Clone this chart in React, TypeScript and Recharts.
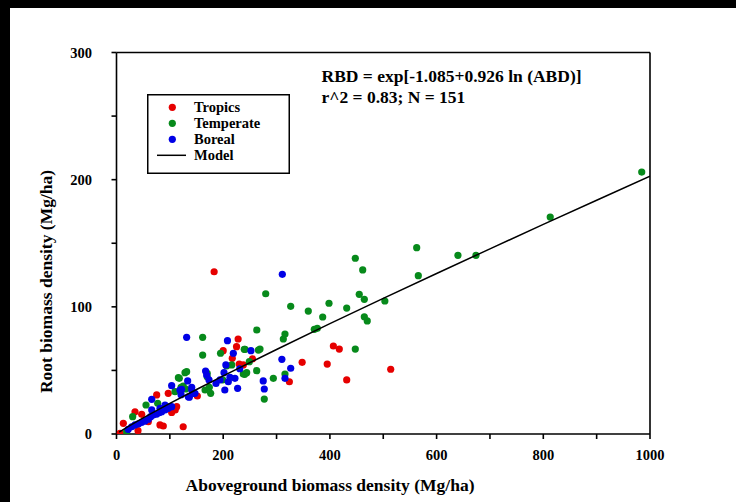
import React from 'react';
import {
  ScatterChart,
  Scatter,
  XAxis,
  YAxis,
  ReferenceLine,
  Legend,
  Label,
} from 'recharts';

// ---------- data (Mg/ha) ----------
const tropics: [number, number][] = [
  [6.6, 0.5], [12.8, 8.4], [34.7, 17.5], [40.3, 2.6], [47.2, 15.5], [59.6, 9.7],
  [75.3, 30.7], [81.5, 7.1], [87.7, 6.3], [97, 32], [103.4, 17], [110, 18.9],
  [112.8, 21.5], [125, 5.7], [151.5, 29.9], [183, 127.6], [200, 65.5], [217, 59.5],
  [225, 68.7], [228, 74.7], [230, 55], [237.7, 54.3], [255, 59], [324, 41.1],
  [348, 56.4], [395, 55], [406.5, 69.2], [417.6, 66.8], [431.5, 42.5], [514, 50.9],
];

const temperate: [number, number][] = [
  [19, 1.8], [30.3, 13.6], [55.3, 22.8], [77.2, 24.1], [109.7, 33.3], [116, 44.3],
  [117.7, 43.8], [121, 36.7], [125, 37.7], [128.4, 48.2], [131.5, 49], [129.7, 35.4],
  [161.5, 76], [161.5, 62.1], [166, 34.6], [170, 47.7], [170, 45], [174, 36.7],
  [176.5, 32], [195, 63.5], [199, 42.5], [206.5, 53.5], [216, 54.3], [237.7, 47.2],
  [239.5, 66.6], [241, 66.6], [244, 48.2], [240.3, 46.9], [249, 56.9], [262.8, 49.8],
  [263, 81.8], [266, 66], [269, 66.8], [277, 27.5], [279.7, 110.3], [294, 43.8],
  [312.7, 74.7], [315.8, 78.6], [315.8, 47.2], [326.5, 100.4], [359.5, 96.7],
  [370.8, 82.3], [376.4, 83.1], [386.5, 92], [398.3, 102.8], [431.5, 99],
  [447.6, 66.8], [447.6, 138.2], [455, 109.8], [461.5, 129], [464.5, 105.9],
  [464.5, 92.2], [470, 88.9], [503, 104.6], [562.7, 146.5], [565.7, 124.5],
  [640, 140.5], [673.8, 140.5], [813, 170.6], [984.5, 206],
];

const boreal: [number, number][] = [
  [22, 3.7], [28.5, 5.7], [34.7, 7.1], [41, 7.9], [47.2, 9.2], [53.4, 10.2],
  [59.6, 11.6], [64, 13.6], [66, 18.9], [69, 14.9], [75.3, 15.7], [80.2, 16.7],
  [81.5, 20.2], [84.7, 17.5], [91, 18.9], [91, 22.8], [97, 20.2], [100, 21.5],
  [103.4, 21.5], [66, 27.3], [103.4, 38], [119, 34.6], [122, 35.1], [121, 30.9],
  [131.5, 76], [133.4, 41.7], [134.6, 29.3], [136.5, 28.9], [141, 36.7], [141, 34.6],
  [144, 32], [147, 32], [167, 49.5], [169, 46.4], [173.4, 42.5], [186.5, 39.8],
  [194, 42.5], [201.5, 48.2], [203, 34.6], [205, 54.3], [208, 73.4], [209.6, 41.1],
  [212.7, 44.6], [219, 63.5], [222, 43.8], [227, 35.9], [231, 51.3], [252, 65.5],
  [275, 41.7], [277, 35.4], [310, 58.7], [310.8, 125.6], [315.8, 43.8], [326.5, 51.7],
];

const modelABD = [5, 20, 50, 100, 150, 200, 300, 400, 500, 600, 700, 800, 900, 1000];
const modelRBD = [1.5, 5.41, 12.65, 24.03, 34.98, 45.67, 66.47, 86.75, 106.7, 126.2, 145.6, 164.8, 183.8, 202.8];

const xTicks = [0, 100, 200, 300, 400, 500, 600, 700, 800, 900, 1000];
const yTicks = [0, 50, 100, 150, 200, 250, 300];

const seriesNames = ['Tropics', 'Temperate', 'Boreal', 'Model'];
const seriesColors = ['#e60000', '#078a1b', '#0000e6', '#000000'];

const equationLines = ['RBD = exp[-1.085+0.926 ln (ABD)]', 'r^2 = 0.83; N = 151'];
const xTitle = 'Aboveground biomass density (Mg/ha)';
const yTitle = 'Root biomass density (Mg/ha)';

// ---------- helpers ----------
const toPts = (arr: [number, number][]) => arr.map(([x, y]) => ({ x, y }));
const modelData = modelABD.map((x, i) => ({ x, y: modelRBD[i] }));

const FONT = "'Liberation Serif', 'Times New Roman', serif";

const dot = (color: string) => (props: any) => (
  <circle cx={props.cx} cy={props.cy} r={3.6} fill={color} />
);

const LegendBox = () => (
  <svg width={143} height={80} style={{ display: 'block' }}>
    <rect x={0.75} y={0.75} width={141.5} height={78.5} fill="#fff" stroke="#000" strokeWidth={1.5} />
    {seriesNames.map((name, i) => {
      const cy = 13.3 + i * 16;
      return (
        <g key={name}>
          {i < 3 ? (
            <circle cx={25.3} cy={cy} r={3.6} fill={seriesColors[i]} />
          ) : (
            <line x1={10} x2={39} y1={cy} y2={cy} stroke="#000" strokeWidth={1.5} />
          )}
          <text
            x={47}
            y={cy + 5}
            fontFamily={FONT}
            fontWeight="bold"
            fontSize={14.5}
            fill="#000"
          >
            {name}
          </text>
        </g>
      );
    })}
  </svg>
);

const tickStyle = { fontFamily: FONT, fontWeight: 'bold', fontSize: 14.5, fill: '#000' } as any;

export default function App() {
  return (
    <div style={{ position: 'absolute', left: 0, top: 0, width: 736, height: 502, background: '#000' }}>
      <div style={{ position: 'absolute', left: 10, top: 8, width: 726, height: 494, background: '#fff' }} />
      <div style={{ position: 'absolute', left: 0, top: 0 }}>
        <ScatterChart
          width={736}
          height={502}
          margin={{ top: 52.5, right: 86, bottom: 38, left: 56.5 }}
        >
          <XAxis
            type="number"
            dataKey="x"
            domain={[0, 1000]}
            ticks={xTicks}
            interval={0}
            tickFormatter={(v: number) => (v % 200 === 0 ? String(v) : '')}
            tick={tickStyle}
            tickSize={5}
            tickMargin={11}
            height={30}
            stroke="#000"
            strokeWidth={1.6}
            allowDataOverflow
          >
            <Label
              content={() => (
                <text x={330} y={491} textAnchor="middle" fontFamily={FONT} fontWeight="bold" fontSize={17.5} fill="#000">
                  {xTitle}
                </text>
              )}
            />
          </XAxis>
          <YAxis
            type="number"
            dataKey="y"
            domain={[0, 300]}
            ticks={yTicks}
            interval={0}
            tickFormatter={(v: number) => (v % 100 === 0 ? String(v) : '')}
            tick={tickStyle}
            tickSize={5}
            tickMargin={19.5}
            width={60}
            stroke="#000"
            strokeWidth={1.6}
            allowDataOverflow
          >
            <Label
              content={() => (
                <text
                  x={46}
                  y={281.5}
                  transform="rotate(-90 46 281.5)"
                  textAnchor="middle"
                  dominantBaseline="central"
                  fontFamily={FONT}
                  fontWeight="bold"
                  fontSize={17.5}
                  fill="#000"
                >
                  {yTitle}
                </text>
              )}
            />
          </YAxis>
          <ReferenceLine y={300} stroke="#000" strokeWidth={1.6} />
          <ReferenceLine x={1000} stroke="#000" strokeWidth={1.6} />
          <Scatter name={seriesNames[0]} data={toPts(tropics)} fill={seriesColors[0]} shape={dot(seriesColors[0])} isAnimationActive={false} />
          <Scatter name={seriesNames[1]} data={toPts(temperate)} fill={seriesColors[1]} shape={dot(seriesColors[1])} isAnimationActive={false} />
          <Scatter name={seriesNames[2]} data={toPts(boreal)} fill={seriesColors[2]} shape={dot(seriesColors[2])} isAnimationActive={false} />
          <Scatter
            name={seriesNames[3]}
            data={modelData}
            fill="#000"
            line={{ stroke: '#000', strokeWidth: 1.5 }}
            lineType="joint"
            shape={() => <g />}
            isAnimationActive={false}
          />
          <Legend
            layout="horizontal"
            verticalAlign="middle"
            align="center"
            content={() => <LegendBox />}
            wrapperStyle={{ left: 147, top: 94, width: 143, height: 80 }}
          />
          <text x={321.5} y={82} fontFamily={FONT} fontWeight="bold" fontSize={17.5} fill="#000">
            {equationLines[0]}
          </text>
          <text x={321.5} y={103} fontFamily={FONT} fontWeight="bold" fontSize={17.5} fill="#000">
            {equationLines[1]}
          </text>
        </ScatterChart>
      </div>
    </div>
  );
}
